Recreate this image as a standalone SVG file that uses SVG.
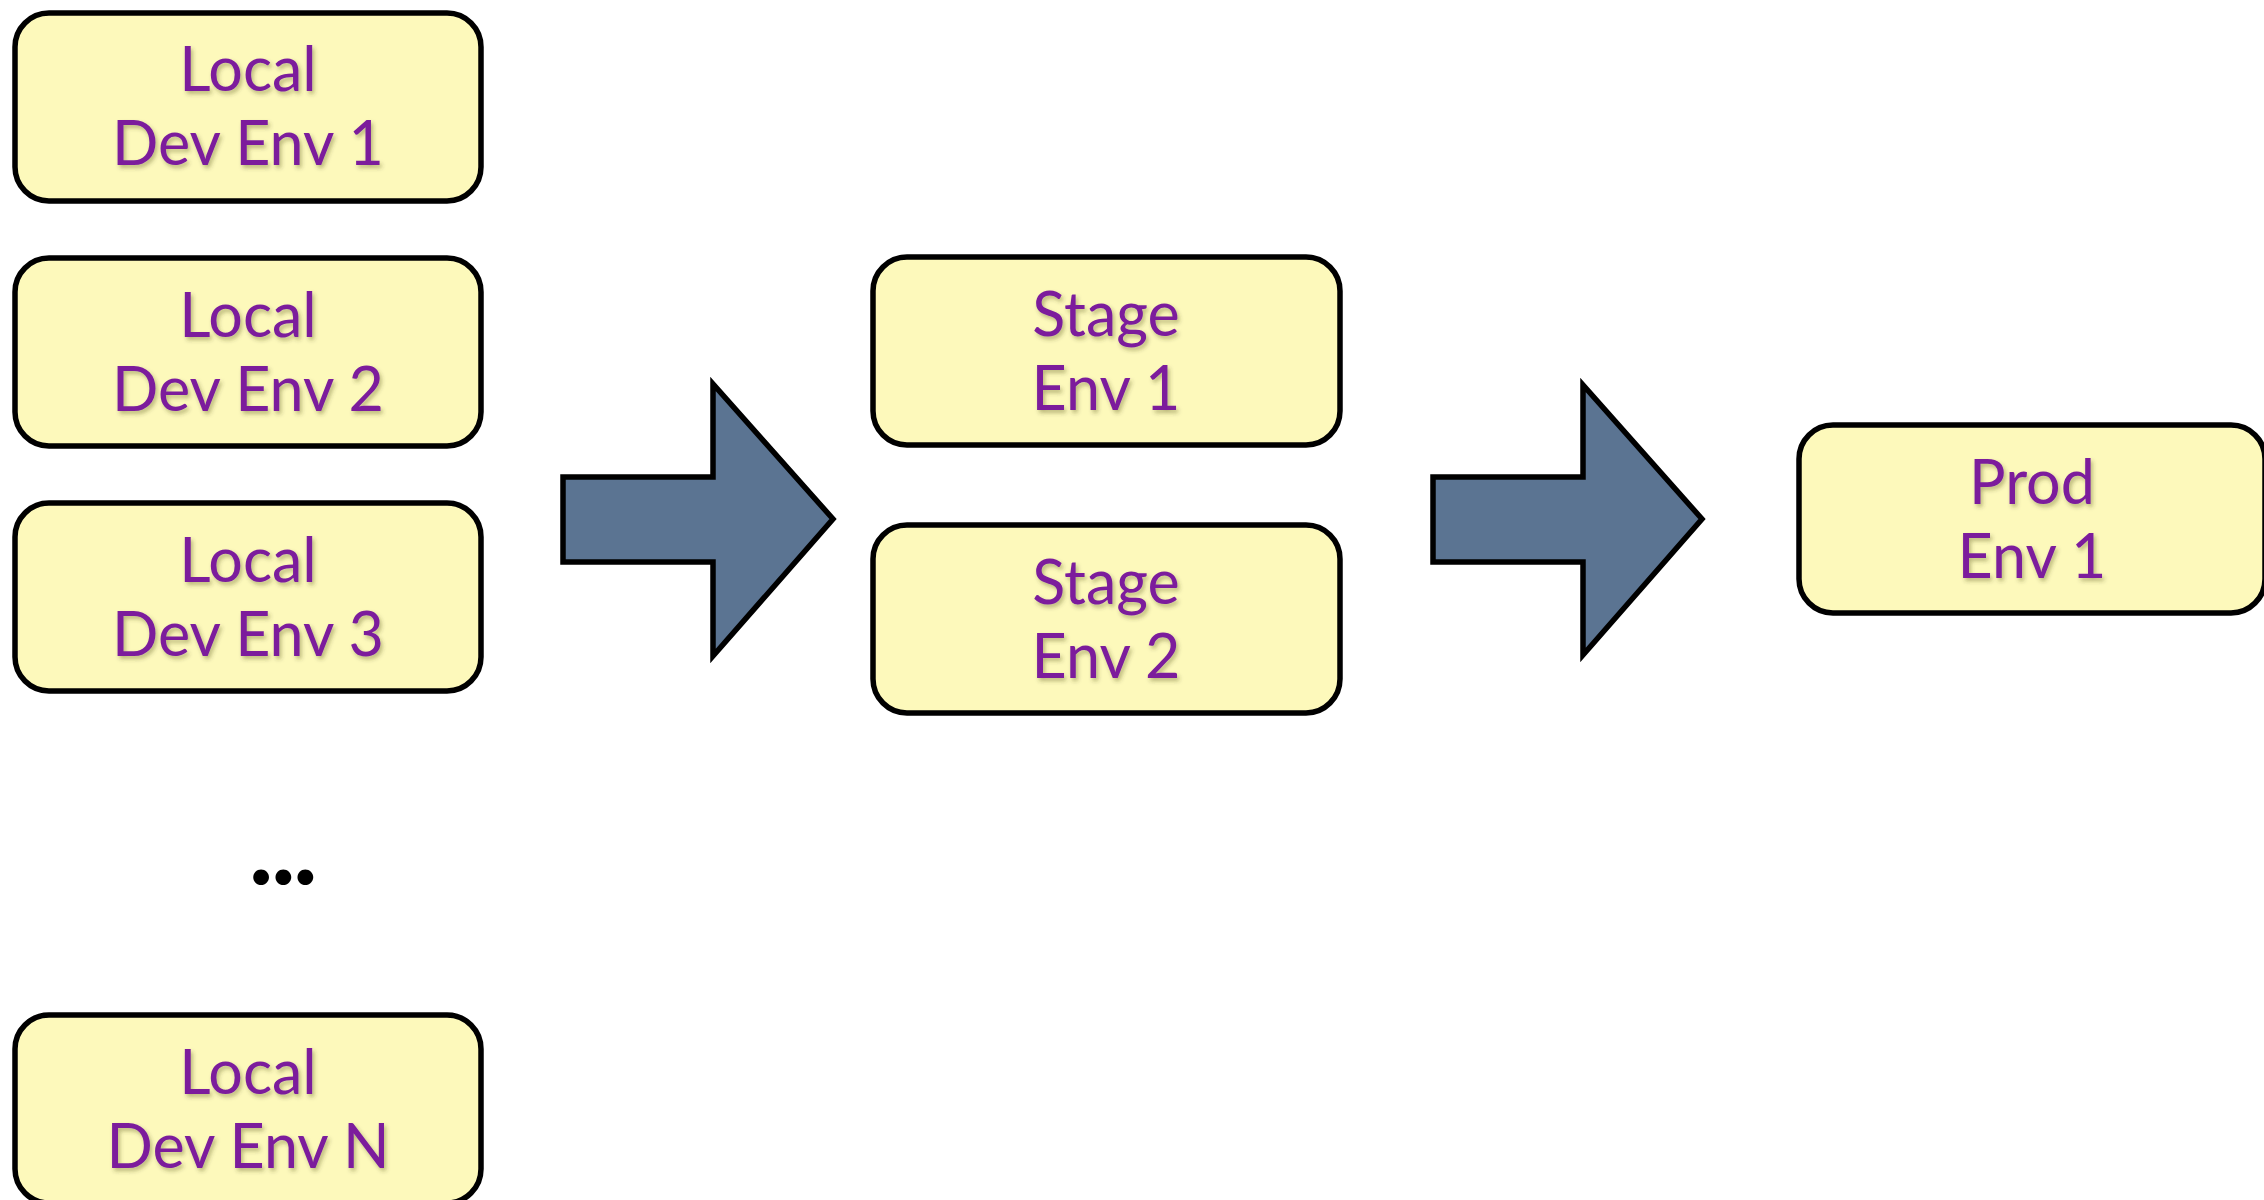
<svg xmlns="http://www.w3.org/2000/svg" width="2264" height="1200" viewBox="0 0 2264 1200">
  <defs>
    <filter id="tshadow" x="-10%" y="-20%" width="120%" height="150%">
      <feDropShadow dx="2" dy="3" stdDeviation="2.2" flood-color="#3a3a00" flood-opacity="0.35"/>
    </filter>
  </defs>
  <style>
    .box { fill: #FDF9BB; stroke: #000; stroke-width: 5.5; }
    .lbl { font-family: Lato, "Liberation Sans", sans-serif; font-size: 61px; fill: #7B1F9C; text-anchor: middle; filter: url(#tshadow); }
    .arrow { fill: #5B7492; stroke: #000; stroke-width: 5.5; stroke-linejoin: miter; }
    .dots { font-family: Lato, "Liberation Sans", sans-serif; font-weight: bold; font-size: 104px; letter-spacing: -2.5px; fill: #000; text-anchor: middle; }
  </style>
  <rect width="2264" height="1200" fill="#fff"/>

  <g id="connectors">
    <path class="arrow" d="M563,477 L713,477 L713,384 L833,519 L713,656 L713,562 L563,562 Z"/>
    <path class="arrow" d="M1433,477 L1583,477 L1583,385 L1702,519 L1583,655 L1583,562 L1433,562 Z"/>
  </g>

  <g id="local1">
    <rect class="box" x="15" y="13" width="466" height="188" rx="34" ry="34"/>
    <text class="lbl" x="248" y="91">Local</text>
    <text class="lbl" x="248" y="165">Dev Env 1</text>
  </g>
  <g id="local2">
    <rect class="box" x="15" y="258" width="466" height="188" rx="34" ry="34"/>
    <text class="lbl" x="248" y="337">Local</text>
    <text class="lbl" x="248" y="411">Dev Env 2</text>
  </g>
  <g id="local3">
    <rect class="box" x="15" y="503" width="466" height="188" rx="34" ry="34"/>
    <text class="lbl" x="248" y="582">Local</text>
    <text class="lbl" x="248" y="656">Dev Env 3</text>
  </g>
  <g id="ellipsis">
    <text class="dots" x="282" y="884">...</text>
  </g>
  <g id="localN">
    <rect class="box" x="15" y="1015" width="466" height="188" rx="34" ry="34"/>
    <text class="lbl" x="248" y="1094">Local</text>
    <text class="lbl" x="248" y="1168">Dev Env N</text>
  </g>

  <g id="stage1">
    <rect class="box" x="873" y="257" width="467" height="188" rx="34" ry="34"/>
    <text class="lbl" x="1106" y="336">Stage</text>
    <text class="lbl" x="1106" y="410">Env 1</text>
  </g>
  <g id="stage2">
    <rect class="box" x="873" y="525" width="467" height="188" rx="34" ry="34"/>
    <text class="lbl" x="1106" y="604">Stage</text>
    <text class="lbl" x="1106" y="678">Env 2</text>
  </g>

  <g id="prod1">
    <rect class="box" x="1799" y="425" width="466" height="188" rx="34" ry="34"/>
    <text class="lbl" x="2032" y="504">Prod</text>
    <text class="lbl" x="2032" y="578">Env 1</text>
  </g>
</svg>
